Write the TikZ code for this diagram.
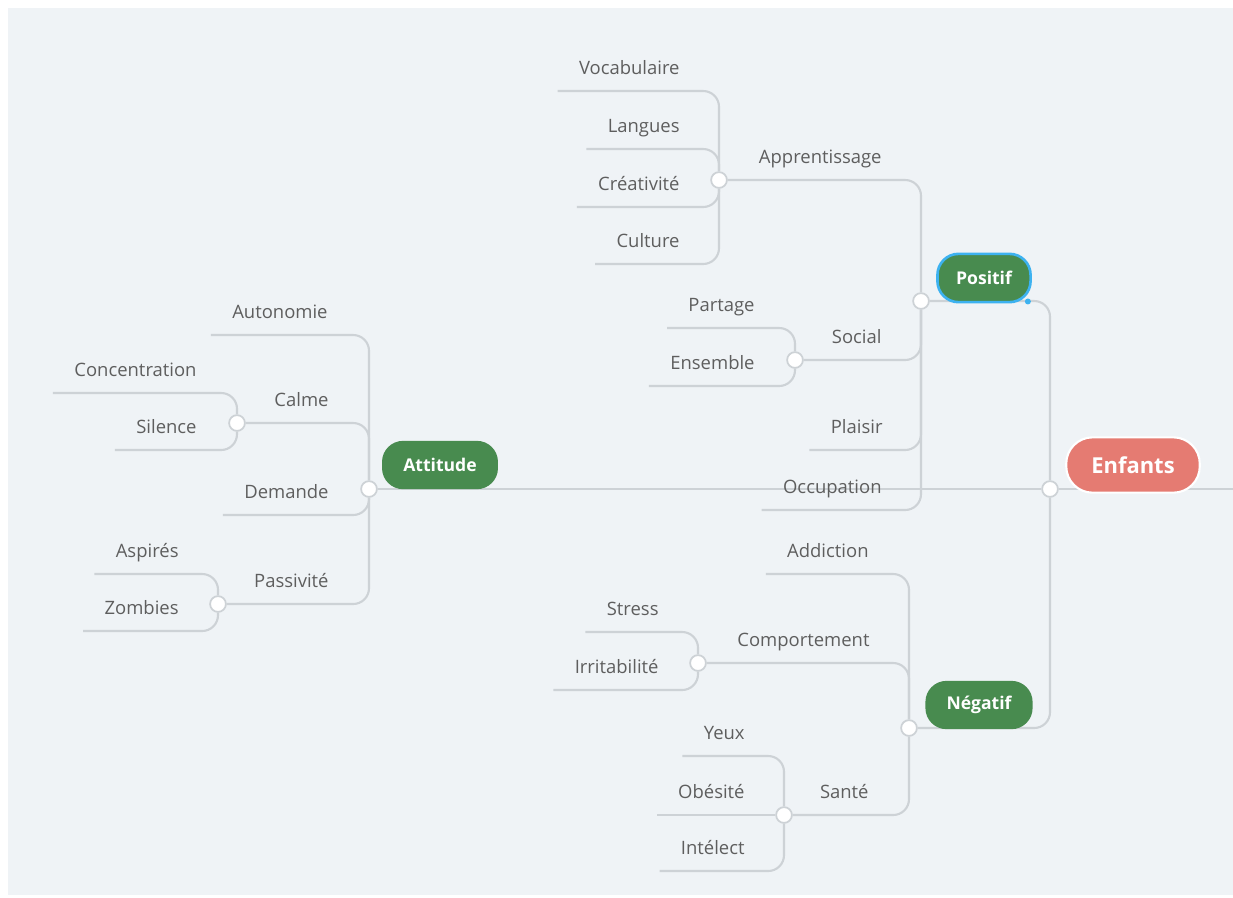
\documentclass[tikz,border=0pt]{standalone}
\usepackage{fontspec}
\setmainfont{Open Sans}
\usetikzlibrary{backgrounds}
\definecolor{paper}{HTML}{EFF3F6}
\definecolor{wire}{HTML}{CDD2D6}
\definecolor{leafgrey}{HTML}{5E5E5E}
\definecolor{topicgreen}{HTML}{488B4F}
\definecolor{rootred}{HTML}{E57B72}
\definecolor{selblue}{HTML}{3DB2F0}
\tikzset{
  leaf/.style={font=\fontsize{10.5}{12}\selectfont, text=leafgrey, inner xsep=12pt, inner ysep=0pt,
    text height=8pt, text depth=9.1pt, anchor=south east},
  dot/.style={circle, draw=wire, fill=white, line width=1pt, minimum size=9pt, inner sep=0pt},
  conn/.style={draw=wire, line width=1.2pt, rounded corners=9pt},
  topic/.style={fill=topicgreen, text=white, font=\bfseries\fontsize{10}{12}\selectfont,
    rounded corners=12pt, minimum height=27.5pt, inner sep=0pt},
}
\begin{document}
\begin{tikzpicture}[x=0.02cm, y=-0.02cm]
  \useasboundingbox (0,0) rectangle (1233,897);

  \node[fill=rootred, draw=white, line width=1.2pt, text=white, font=\bfseries\fontsize{12.5}{14}\selectfont,
    rounded corners=15pt, minimum width=76pt, minimum height=31.5pt] (ent) at (1133,465) {Enfants};
  \node[topic, draw=selblue, line width=1.5pt, minimum width=53pt] (pos) at (984,278) {Positif};
  \node[topic, minimum width=61pt] (neg) at (979,705) {Négatif};
  \node[topic, minimum width=66pt] (att) at (440,465) {Attitude};
  \fill[selblue] (pos.south east) ++(-4,-2) circle (3);

  \node[dot] (ent-c) at (1050,489) {};
  \node[dot] (pos-c) at (921,301) {};
  \node[dot] (neg-c) at (909,728) {};
  \node[dot] (att-c) at (369,489) {};
  \node[dot] (app-c) at (719,180) {};
  \node[dot] (soc-c) at (795,360) {};
  \node[dot] (com-c) at (698,663) {};
  \node[dot] (san-c) at (784,815) {};
  \node[dot] (cal-c) at (237,423) {};
  \node[dot] (pas-c) at (218,604) {};
  \coordinate (ent-r) at (1233,489);

  \node[leaf] (app) at (903,180) {Apprentissage};
  \node[leaf] (soc) at (903,360) {Social};
  \node[leaf] (pla) at (904,450) {Plaisir};
  \node[leaf] (occ) at (903,510) {Occupation};
  \node[leaf] (voc) at (701,91) {Vocabulaire};
  \node[leaf] (lan) at (701,149) {Langues};
  \node[leaf] (cre) at (701,207) {Créativité};
  \node[leaf] (cul) at (701,264) {Culture};
  \node[leaf] (par) at (776,328) {Partage};
  \node[leaf] (ens) at (776,386) {Ensemble};
  \node[leaf] (add) at (890,574) {Addiction};
  \node[leaf] (com) at (891,663) {Comportement};
  \node[leaf] (san) at (890,815) {Santé};
  \node[leaf] (str) at (680,632) {Stress};
  \node[leaf] (irr) at (680,690) {Irritabilité};
  \node[leaf] (yeu) at (766,756) {Yeux};
  \node[leaf] (obe) at (766,815) {Obésité};
  \node[leaf] (int) at (766,871) {Intélect};
  \node[leaf] (aut) at (349,335) {Autonomie};
  \node[leaf] (cal) at (350,423) {Calme};
  \node[leaf] (dem) at (350,515) {Demande};
  \node[leaf] (pas) at (350,604) {Passivité};
  \node[leaf] (con) at (218,393) {Concentration};
  \node[leaf] (sil) at (218,450) {Silence};
  \node[leaf] (asp) at (200,574) {Aspirés};
  \node[leaf] (zom) at (200,631) {Zombies};

  \begin{scope}[on background layer]
    \fill[white] (0,0) rectangle (1233,897);
    \fill[paper] (8,8) rectangle (1233,895);
    \draw[conn] (ent-c) |- (pos-c);
    \draw[conn] (ent-c) |- (neg-c);
    \draw[conn] (ent-c) -- (att-c);
    \draw[conn] (ent-c) -- (ent-r);
    \draw[conn] (pos-c) |- (app-c);
    \draw[conn] (pos-c) |- (soc-c);
    \draw[conn] (pos-c) |- (pla.south west);
    \draw[conn] (pos-c) |- (occ.south west);
    \draw[conn] (app-c) |- (voc.south west);
    \draw[conn] (app-c) |- (lan.south west);
    \draw[conn] (app-c) |- (cre.south west);
    \draw[conn] (app-c) |- (cul.south west);
    \draw[conn] (soc-c) |- (par.south west);
    \draw[conn] (soc-c) |- (ens.south west);
    \draw[conn] (neg-c) |- (add.south west);
    \draw[conn] (neg-c) |- (com-c);
    \draw[conn] (neg-c) |- (san-c);
    \draw[conn] (com-c) |- (str.south west);
    \draw[conn] (com-c) |- (irr.south west);
    \draw[conn] (san-c) |- (yeu.south west);
    \draw[conn] (san-c) -- (obe.south west);
    \draw[conn] (san-c) |- (int.south west);
    \draw[conn] (att-c) |- (aut.south west);
    \draw[conn] (att-c) |- (cal-c);
    \draw[conn] (att-c) |- (dem.south west);
    \draw[conn] (att-c) |- (pas-c);
    \draw[conn] (cal-c) |- (con.south west);
    \draw[conn] (cal-c) |- (sil.south west);
    \draw[conn] (pas-c) |- (asp.south west);
    \draw[conn] (pas-c) |- (zom.south west);
  \end{scope}
\end{tikzpicture}
\end{document}
